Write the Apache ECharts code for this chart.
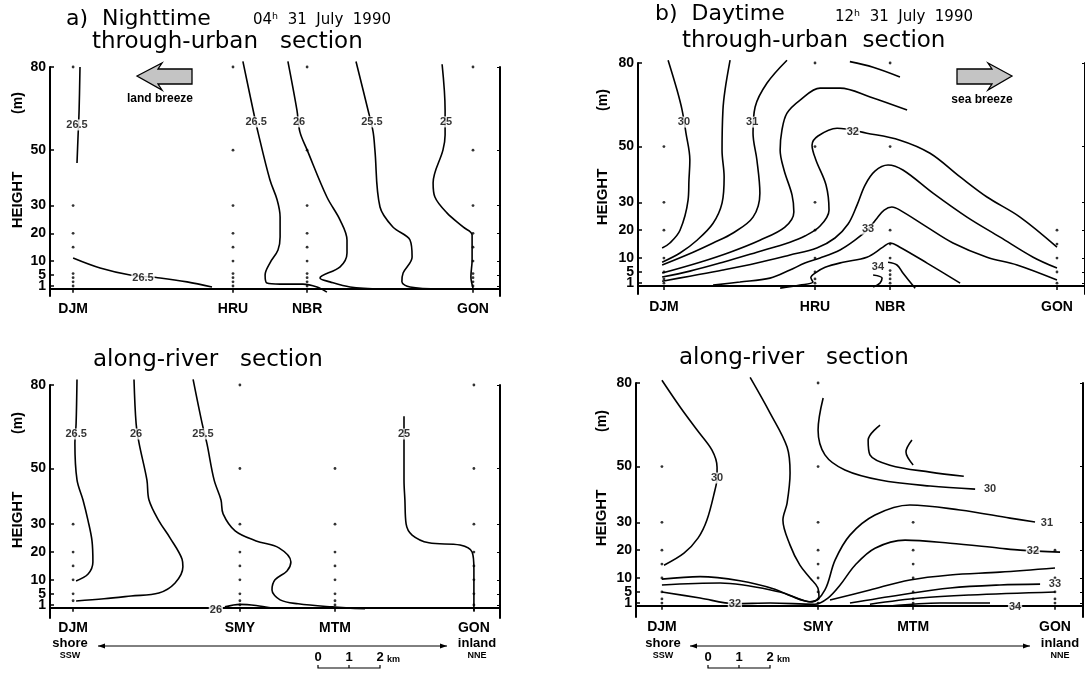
<!DOCTYPE html>
<html><head><meta charset="utf-8">
<script src="https://cdn.jsdelivr.net/npm/echarts@6/dist/echarts.min.js"></script>
<style>html,body{margin:0;padding:0;background:#fff}#c{width:1085px;height:677px}</style>
</head><body><div id="c"></div>
<script>
// ---------- common ----------
const heightTicks = [1, 5, 10, 20, 30, 50, 80];
const heightLabelsMain = [5, 10, 20, 30, 50, 80];
const heightLabelsLow = [1];

// ---------- a) night, through-urban (x: km along section, y: height m) ----------
const aUrbStations = ['DJM', 'HRU', 'NBR', 'GON'];
const aUrbStationKm = [0.77, 6.1, 8.57, 14.1];
const aUrbHeights = [
  [1, 2.5, 4, 5.5, 15, 20, 30, 80],
  [1, 2.5, 4, 5.5, 10, 15, 20, 30, 50, 80],
  [1, 2.5, 4, 5.5, 10, 15, 20, 30, 50, 80],
  [1, 2.5, 4, 5.5, 10, 15, 20, 30, 50, 80]
];
const aUrb_265a = [[1.0, 80], [0.97, 64.5], [0.93, 53.7], [0.9, 45.4]];
const aUrb_265b = [[0.77, 11.1], [1.67, 7.5], [2.67, 5.0], [3.67, 3.9], [4.57, 2.5], [5.4, 0.65]];
const aUrb_265c = [[6.43, 82], [6.77, 64.5], [6.93, 56.6], [7.33, 39.3], [7.57, 32.1], [7.67, 25.9], [7.67, 18.7], [7.6, 14.0], [7.33, 9.3], [7.17, 5.0], [7.23, 2.1], [7.67, 1.7], [8.43, 1.7], [8.9, 0.65], [9.23, -1.2]];
const aUrb_26 = [[7.93, 82], [8.23, 64.5], [8.33, 56.6], [8.57, 50.1], [9.23, 33.1], [9.67, 24.8], [9.9, 17.6], [9.9, 12.9], [9.67, 7.9], [9.0, 3.9], [9.33, 2.5], [10.0, 0.65], [11.07, -0.1]];
const aUrb_255 = [[10.2, 82], [10.6, 64.5], [10.77, 56.6], [10.83, 50.1], [11.0, 29.5], [11.43, 22.3], [12.0, 17.6], [12.07, 11.5], [11.77, 5.7], [11.73, 2.5], [12.0, 0.65], [13.0, -0.1]];
const aUrb_25 = [[13.07, 81], [13.17, 64.5], [13.17, 55.5], [13.1, 50.1], [12.77, 38.2], [12.83, 33.1], [13.23, 27.4], [13.77, 22.3], [14.07, 19.4], [14.07, 10.4], [14.03, 4.3], [14.1, 0.3]];
const aUrbLabels = [[0.9, 59.1, '26.5'], [3.1, 3.9, '26.5'], [6.87, 60.2, '26.5'], [8.3, 60.2, '26'], [10.73, 60.2, '25.5'], [13.2, 60.2, '25']];

// ---------- a) night, along-river ----------
const aRivStations = ['DJM', 'SMY', 'MTM', 'GON'];
const aRivStationKm = [0.77, 6.33, 9.5, 14.13];
const aRivHeights = [
  [2.5, 5, 10, 15, 20, 30],
  [1, 2.5, 5, 10, 15, 20, 30, 50, 80],
  [1, 2.5, 5, 10, 15, 20, 30, 50],
  [1, 5, 10, 15, 20, 30, 50, 80]
];
const aRiv_265 = [[0.9, 82], [0.87, 66.2], [0.83, 59.0], [0.9, 45.9], [1.1, 38.7], [1.27, 31.2], [1.4, 24.0], [1.43, 16.4], [1.27, 12.1], [0.87, 9.6]];
const aRiv_26 = [[2.8, 82], [2.87, 66.2], [2.97, 59.0], [3.23, 45.9], [3.3, 38.7], [3.63, 31.2], [4.0, 25.1], [4.4, 17.5], [4.43, 14.7], [4.17, 8.9], [3.63, 5.3], [2.7, 4.2], [1.8, 3.2], [0.87, 2.4]];
const aRiv_255 = [[4.77, 82], [5.07, 66.2], [5.23, 59.0], [5.47, 45.9], [5.7, 38.7], [5.77, 33.7], [6.17, 27.6], [6.87, 24.0], [7.63, 21.5], [8.03, 16.4], [7.9, 13.2], [7.5, 10.0], [7.4, 6.4], [7.67, 2.8], [8.27, 1.4], [9.4, 0.3], [10.5, -0.4]];
const aRiv_26b = [[5.83, 0.3], [6.33, 1.2], [6.87, 0.8], [7.4, -0.1]];
const aRiv_25 = [[11.8, 68.8], [11.8, 59.5], [11.8, 45.9], [11.83, 38.7], [11.87, 30.1], [12.07, 26.1], [12.63, 23.3], [13.67, 22.5], [14.07, 20.0], [14.13, 13.9], [14.13, -1.1]];
const aRivLabels = [[0.87, 62.4, '26.5'], [2.87, 62.4, '26'], [5.1, 62.4, '25.5'], [11.8, 62.4, '25'], [5.53, -0.8, '26']];

// ---------- b) day, through-urban ----------
const bUrbStations = ['DJM', 'HRU', 'NBR', 'GON'];
const bUrbStationKm = [0.87, 5.94, 8.46, 14.06];
const bUrbHeights = [
  [1, 2.5, 5, 10, 20, 30, 50],
  [1, 2.5, 5, 10, 20, 30, 50, 80],
  [1, 2.5, 4, 5.5, 10, 15, 20, 50, 80],
  [1, 5, 10, 15, 20]
];
const bUrb_30 = [[1.01, 81], [1.31, 70.3], [1.48, 63.1], [1.61, 54.8], [1.74, 45.2], [1.71, 38.0], [1.68, 30.8], [1.41, 20.0], [1.07, 15.4], [0.81, 13.6]];
const bUrb_305 = [[3.09, 81], [2.92, 70.3], [2.85, 63.1], [2.82, 48.7], [2.89, 39.1], [2.82, 29.7], [2.52, 22.5], [1.98, 16.4], [1.41, 11.8], [0.81, 8.5]];
const bUrb_31 = [[5.0, 81], [4.33, 72.8], [3.93, 64.2], [3.86, 54.8], [3.99, 45.2], [4.09, 33.3], [3.86, 24.7], [3.19, 19.0], [2.52, 15.4], [1.85, 12.1], [0.81, 7.5]];
const bUrb_315 = [[9.03, 63.1], [7.79, 67.8], [6.78, 71.0], [6.11, 71.0], [5.44, 66.7], [5.0, 62.0], [4.83, 55.9], [4.77, 48.7], [4.9, 41.6], [5.17, 32.6], [5.23, 26.5], [4.93, 21.1], [4.09, 16.4], [3.09, 12.1], [2.08, 8.5], [0.81, 4.6]];
const bUrb_32 = [[0.81, 3.2], [1.74, 5.3], [2.85, 8.5], [3.99, 12.1], [5.1, 15.7], [5.6, 17.9], [6.11, 21.5], [6.41, 27.2], [6.31, 36.2], [5.97, 45.2], [5.84, 50.5], [6.04, 53.8], [6.68, 56.6], [7.68, 54.8], [8.79, 52.3], [9.8, 47.6], [10.81, 39.1], [11.71, 31.9], [12.82, 24.7], [14.06, 13.9]];
const bUrb_325 = [[0.81, 1.7], [1.74, 3.5], [2.85, 5.7], [3.99, 8.2], [5.1, 11.1], [6.0, 13.6], [6.61, 17.2], [7.05, 22.2], [7.35, 29.0], [7.62, 36.2], [7.95, 41.2], [8.39, 43.4], [8.89, 41.6], [9.9, 33.3], [11.04, 24.7], [12.15, 17.5], [13.26, 10.3], [14.06, 6.4]];
const bUrb_33 = [[2.52, 0.3], [3.42, 1.4], [4.43, 2.8], [5.1, 5.7], [5.6, 8.2], [6.11, 10.0], [6.78, 12.9], [7.28, 16.4], [7.72, 20.4], [8.02, 24.3], [8.26, 27.2], [8.52, 28.3], [8.79, 27.2], [9.7, 21.1], [10.57, 15.4], [11.71, 10.3], [12.72, 7.5], [14.06, 2.1]];
const bUrb_335 = [[4.77, -0.8], [5.44, 0.3], [5.87, 1.4], [5.8, 3.0], [5.94, 4.6], [6.28, 6.7], [6.88, 8.5], [7.68, 10.3], [8.22, 13.9], [8.46, 15.4], [8.79, 13.9], [9.7, 8.2], [10.81, 1.0]];
const bUrb_34a = [[8.39, 8.5], [8.69, 7.5], [8.89, 4.6], [9.13, 1.4], [9.3, -0.8]];
const bUrb_34b = [[7.89, 3.9], [8.19, 2.8], [8.12, 1.0], [7.89, -0.4]];
const bUrb_top = [[7.11, 80.5], [7.89, 78.5], [8.79, 75.0]];
const bUrbLabels = [[1.54, 58.8, '30'], [3.83, 58.8, '31'], [7.21, 55.2, '32'], [7.72, 20.4, '33'], [8.05, 6.7, '34']];

// ---------- b) day, along-river ----------
const bRivStations = ['DJM', 'SMY', 'MTM', 'GON'];
const bRivStationKm = [0.87, 6.11, 9.3, 14.06];
const bRivHeights = [
  [1, 2.5, 5, 10, 15, 20, 30, 50],
  [1, 2.5, 5, 10, 15, 20, 30, 50, 80],
  [1, 2.5, 5, 10, 15, 20, 30],
  [1, 2.5, 5, 10, 20]
];
const bRiv_30a = [[0.87, 81], [1.48, 71.4], [2.05, 63.1], [2.55, 55.9], [2.72, 49.8], [2.72, 45.9], [2.65, 41.6], [2.38, 30.8], [2.08, 24.3], [1.61, 18.9], [0.94, 14.6]];
const bRiv_30b = [[3.83, 82], [4.5, 69.2], [5.07, 57.0], [5.17, 47.7], [5.07, 36.9], [4.93, 30.8], [5.17, 21.8], [5.5, 14.6], [5.84, 10.0], [6.1, 6.5], [6.14, 3.0], [5.84, 1.5], [5.2, 3.5], [4.66, 6.0], [3.49, 9.0], [2.15, 10.5], [0.87, 9.6]];
const bRiv_31 = [[0.87, 7.5], [2.82, 8.2], [4.83, 5.0], [5.91, 1.4], [6.34, 5.7], [6.68, 16.4], [7.18, 25.4], [8.02, 32.6], [9.19, 36.2], [10.87, 34.4], [12.55, 31.5], [13.39, 30.1]];
const bRiv_32 = [[0.87, 5.0], [2.15, 2.8], [3.32, 0.8], [4.5, 1.0], [6.0, 0.6], [6.44, 2.8], [6.85, 7.5], [7.35, 14.6], [8.02, 20.7], [9.03, 23.6], [10.54, 22.5], [12.21, 20.7], [12.89, 20.0], [14.23, 19.3]];
const bRiv_325 = [[6.51, 2.1], [7.85, 5.7], [9.19, 9.3], [10.54, 11.1], [12.21, 12.1], [14.06, 13.6]];
const bRiv_33 = [[7.18, 1.0], [8.86, 3.9], [10.54, 6.4], [12.21, 7.5], [13.56, 7.8]];
const bRiv_335 = [[7.85, 0.6], [9.53, 2.8], [11.21, 3.9], [14.06, 5.0]];
const bRiv_34 = [[8.52, -0.1], [10.2, 1.0], [11.88, 1.0]];
const bRiv_30c = [[6.28, 74.6], [6.11, 63.1], [6.34, 54.2], [7.01, 48.8], [8.19, 45.2], [9.87, 43.0], [11.38, 41.9]];
const bRiv_inner = [[8.19, 64.9], [7.79, 59.5], [7.85, 54.2], [8.52, 50.5], [9.87, 48.0], [11.0, 46.5]];
const bRiv_hook = [[9.26, 59.5], [9.06, 55.2], [9.3, 50.6]];
const bRivLabels = [[2.72, 45.9, '30'], [11.88, 41.9, '30'], [13.79, 29.7, '31'], [13.32, 19.7, '32'], [3.32, 0.6, '32'], [14.06, 7.8, '33'], [12.72, -0.4, '34']];

// ---------- build ----------
const FONT = 'Liberation Sans';
const panels = [
  { grid: { left: 50, top: 67, width: 450, height: 229 }, ymin: -2.6, xm: 6, names: aUrbStations, km: aUrbStationKm, heights: aUrbHeights,
    lines: [aUrb_265a, aUrb_265b, aUrb_265c, aUrb_26, aUrb_255, aUrb_25], labels: aUrbLabels },
  { grid: { left: 50, top: 385, width: 450, height: 233 }, ymin: -3.7, xm: 3, names: aRivStations, km: aRivStationKm, heights: aRivHeights,
    lines: [aRiv_265, aRiv_26, aRiv_255, aRiv_26b, aRiv_25], labels: aRivLabels },
  { grid: { left: 638, top: 63, width: 447, height: 231 }, ymin: -2.9, xm: 6, names: bUrbStations, km: bUrbStationKm, heights: bUrbHeights,
    lines: [bUrb_30, bUrb_305, bUrb_31, bUrb_315, bUrb_32, bUrb_325, bUrb_33, bUrb_335, bUrb_34a, bUrb_34b, bUrb_top], labels: bUrbLabels },
  { grid: { left: 636, top: 383, width: 447, height: 234 }, ymin: -4.0, xm: 3, names: bRivStations, km: bRivStationKm, heights: bRivHeights,
    lines: [bRiv_30a, bRiv_30b, bRiv_31, bRiv_32, bRiv_325, bRiv_33, bRiv_335, bRiv_34, bRiv_30c, bRiv_inner, bRiv_hook], labels: bRivLabels }
];

const grid = [], xAxis = [], yAxis = [], series = [];
const labelStyle = { color: '#000', fontFamily: FONT, fontWeight: 'bold', fontSize: 14, hideOverlap: false };
panels.forEach((p, i) => {
  grid.push(Object.assign({ containLabel: false }, p.grid));
  xAxis.push({
    type: 'value', gridIndex: i, min: 0, max: 15,
    axisLine: { lineStyle: { color: '#000', width: 2 } },
    axisTick: { customValues: p.km, length: 4, lineStyle: { color: '#000', width: 1.5 } },
    axisLabel: Object.assign({ customValues: p.km, margin: p.xm,
      formatter: v => { const k = p.km.findIndex(q => Math.abs(q - v) < 1e-6); return k >= 0 ? p.names[k] : ''; } }, labelStyle),
    splitLine: { show: false }
  });
  const yBase = { type: 'value', gridIndex: i, min: p.ymin, max: 80, splitLine: { show: false } };
  yAxis.push(Object.assign({}, yBase, { position: 'left',
    axisLine: { show: true, lineStyle: { color: '#000', width: 2 } },
    axisTick: { show: true, inside: true, customValues: heightTicks, length: 4, lineStyle: { color: '#000', width: 1.5 } },
    axisLabel: Object.assign({ customValues: heightLabelsMain, margin: 4 }, labelStyle) }));
  yAxis.push(Object.assign({}, yBase, { position: 'right',
    axisLine: { show: true, lineStyle: { color: '#000', width: 2 } },
    axisTick: { show: true, inside: true, customValues: heightTicks, length: 3, lineStyle: { color: '#000', width: 1 } },
    axisLabel: { show: false } }));
  yAxis.push(Object.assign({}, yBase, { position: 'left',
    axisLine: { show: false }, axisTick: { show: false },
    axisLabel: Object.assign({ customValues: heightLabelsLow, margin: 4 }, labelStyle) }));
  const yi = 3 * i;
  p.lines.forEach(d => series.push({
    type: 'line', xAxisIndex: i, yAxisIndex: yi, data: d, smooth: 0.35, symbol: 'none', clip: false,
    lineStyle: { color: '#000', width: 1.6 }, z: 2, silent: true
  }));
  const dots = [];
  p.km.forEach((k, s) => p.heights[s].forEach(h => dots.push([k, h])));
  series.push({ type: 'scatter', xAxisIndex: i, yAxisIndex: yi, data: dots, symbolSize: 2.8,
    itemStyle: { color: '#000' }, z: 3, silent: true });
  series.push({ type: 'scatter', xAxisIndex: i, yAxisIndex: yi, data: p.labels, symbolSize: 1, clip: false,
    itemStyle: { color: 'rgba(0,0,0,0)' }, z: 6, silent: true,
    label: { show: true, position: 'inside', formatter: q => q.data[2], color: '#000', fontFamily: FONT,
      fontWeight: 'bold', fontSize: 11, backgroundColor: '#fff', padding: [0, 1] } });
});

function txt(x, y, text, size, opts) {
  return Object.assign({ type: 'text', x: x, y: y, z: 10,
    style: Object.assign({ text: text, fontSize: size, fontFamily: FONT, fill: '#000' }, (opts && opts.style) || {}) },
    (opts && opts.el) || {});
}
const TF = 'DejaVu Sans';
const graphics = [
  txt(66, 8, 'a)  Nighttime', 22, { style: { fontFamily: TF } }),
  txt(253, 13, '04ʰ  31  July  1990', 15, { style: { fontFamily: TF } }),
  txt(92, 31, 'through-urban   section', 23, { style: { fontFamily: TF } }),
  txt(93, 349, 'along-river   section', 23, { style: { fontFamily: TF } }),
  txt(655, 3, 'b)  Daytime', 22, { style: { fontFamily: TF } }),
  txt(835, 10, '12ʰ  31  July  1990', 15, { style: { fontFamily: TF } }),
  txt(682, 30, 'through-urban  section', 23, { style: { fontFamily: TF } }),
  txt(679, 347, 'along-river   section', 23, { style: { fontFamily: TF } })
];
// y axis names
[[18, 103, 200], [18, 423, 520], [603, 100, 197], [602, 421, 518]].forEach(a => {
  graphics.push(txt(a[0], a[1], '(m)', 14, { style: { align: 'center', verticalAlign: 'middle', fontWeight: 'bold' }, el: { rotation: Math.PI / 2 } }));
  graphics.push(txt(a[0], a[2], 'HEIGHT', 15, { style: { align: 'center', verticalAlign: 'middle', fontWeight: 'bold' }, el: { rotation: Math.PI / 2 } }));
});
// breeze arrows
graphics.push({ type: 'polygon', z: 10, shape: { points: [[137, 76], [162, 63], [158, 69], [192, 69], [192, 84], [158, 84], [162, 90]] },
  style: { fill: '#c4c4c4', stroke: '#000', lineWidth: 1.3 } });
graphics.push(txt(160, 99, 'land breeze', 12, { style: { align: 'center', verticalAlign: 'middle', fontWeight: 'bold' } }));
graphics.push({ type: 'polygon', z: 10, shape: { points: [[1012, 76], [988, 63], [992, 69], [957, 69], [957, 84], [992, 84], [988, 90]] },
  style: { fill: '#c4c4c4', stroke: '#000', lineWidth: 1.3 } });
graphics.push(txt(982, 100, 'sea breeze', 12, { style: { align: 'center', verticalAlign: 'middle', fontWeight: 'bold' } }));
// shore / inland arrows and scale bars
function dirArrow(x0, x1, y, xs, xi) {
  graphics.push({ type: 'line', z: 10, shape: { x1: x0, y1: y, x2: x1, y2: y }, style: { stroke: '#000', lineWidth: 1 } });
  graphics.push({ type: 'polygon', z: 10, shape: { points: [[x0, y], [x0 + 7, y - 2.5], [x0 + 7, y + 2.5]] }, style: { fill: '#000' } });
  graphics.push({ type: 'polygon', z: 10, shape: { points: [[x1, y], [x1 - 7, y - 2.5], [x1 - 7, y + 2.5]] }, style: { fill: '#000' } });
  graphics.push(txt(xs, y - 3, 'shore', 13, { style: { align: 'center', verticalAlign: 'middle', fontWeight: 'bold' } }));
  graphics.push(txt(xs, y + 10, 'SSW', 9, { style: { align: 'center', verticalAlign: 'middle', fontWeight: 'bold' } }));
  graphics.push(txt(xi, y - 3, 'inland', 13, { style: { align: 'center', verticalAlign: 'middle', fontWeight: 'bold' } }));
  graphics.push(txt(xi, y + 10, 'NNE', 9, { style: { align: 'center', verticalAlign: 'middle', fontWeight: 'bold' } }));
}
dirArrow(98, 447, 646, 70, 477);
dirArrow(690, 1030, 646, 663, 1060);
function scaleBar(x0, step, y) {
  graphics.push({ type: 'polyline', z: 10, shape: { points: [[x0, y - 3], [x0, y], [x0 + 2 * step, y], [x0 + 2 * step, y - 3]] }, style: { stroke: '#000', lineWidth: 1.2, fill: null } });
  graphics.push({ type: 'line', z: 10, shape: { x1: x0 + step, y1: y, x2: x0 + step, y2: y - 3 }, style: { stroke: '#000', lineWidth: 1.2 } });
  ['0', '1', '2'].forEach((t, k) => graphics.push(txt(x0 + k * step, y - 11, t, 13, { style: { align: 'center', verticalAlign: 'middle', fontWeight: 'bold' } })));
  graphics.push(txt(x0 + 2 * step + 7, y - 8, 'km', 9, { style: { align: 'left', verticalAlign: 'middle', fontWeight: 'bold' } }));
}
scaleBar(318, 31, 668);
scaleBar(708, 31, 668);

const chart = echarts.init(document.getElementById('c'));
chart.setOption({ animation: false, backgroundColor: '#fff', grid, xAxis, yAxis, series, graphic: { elements: graphics } });
</script></body></html>
